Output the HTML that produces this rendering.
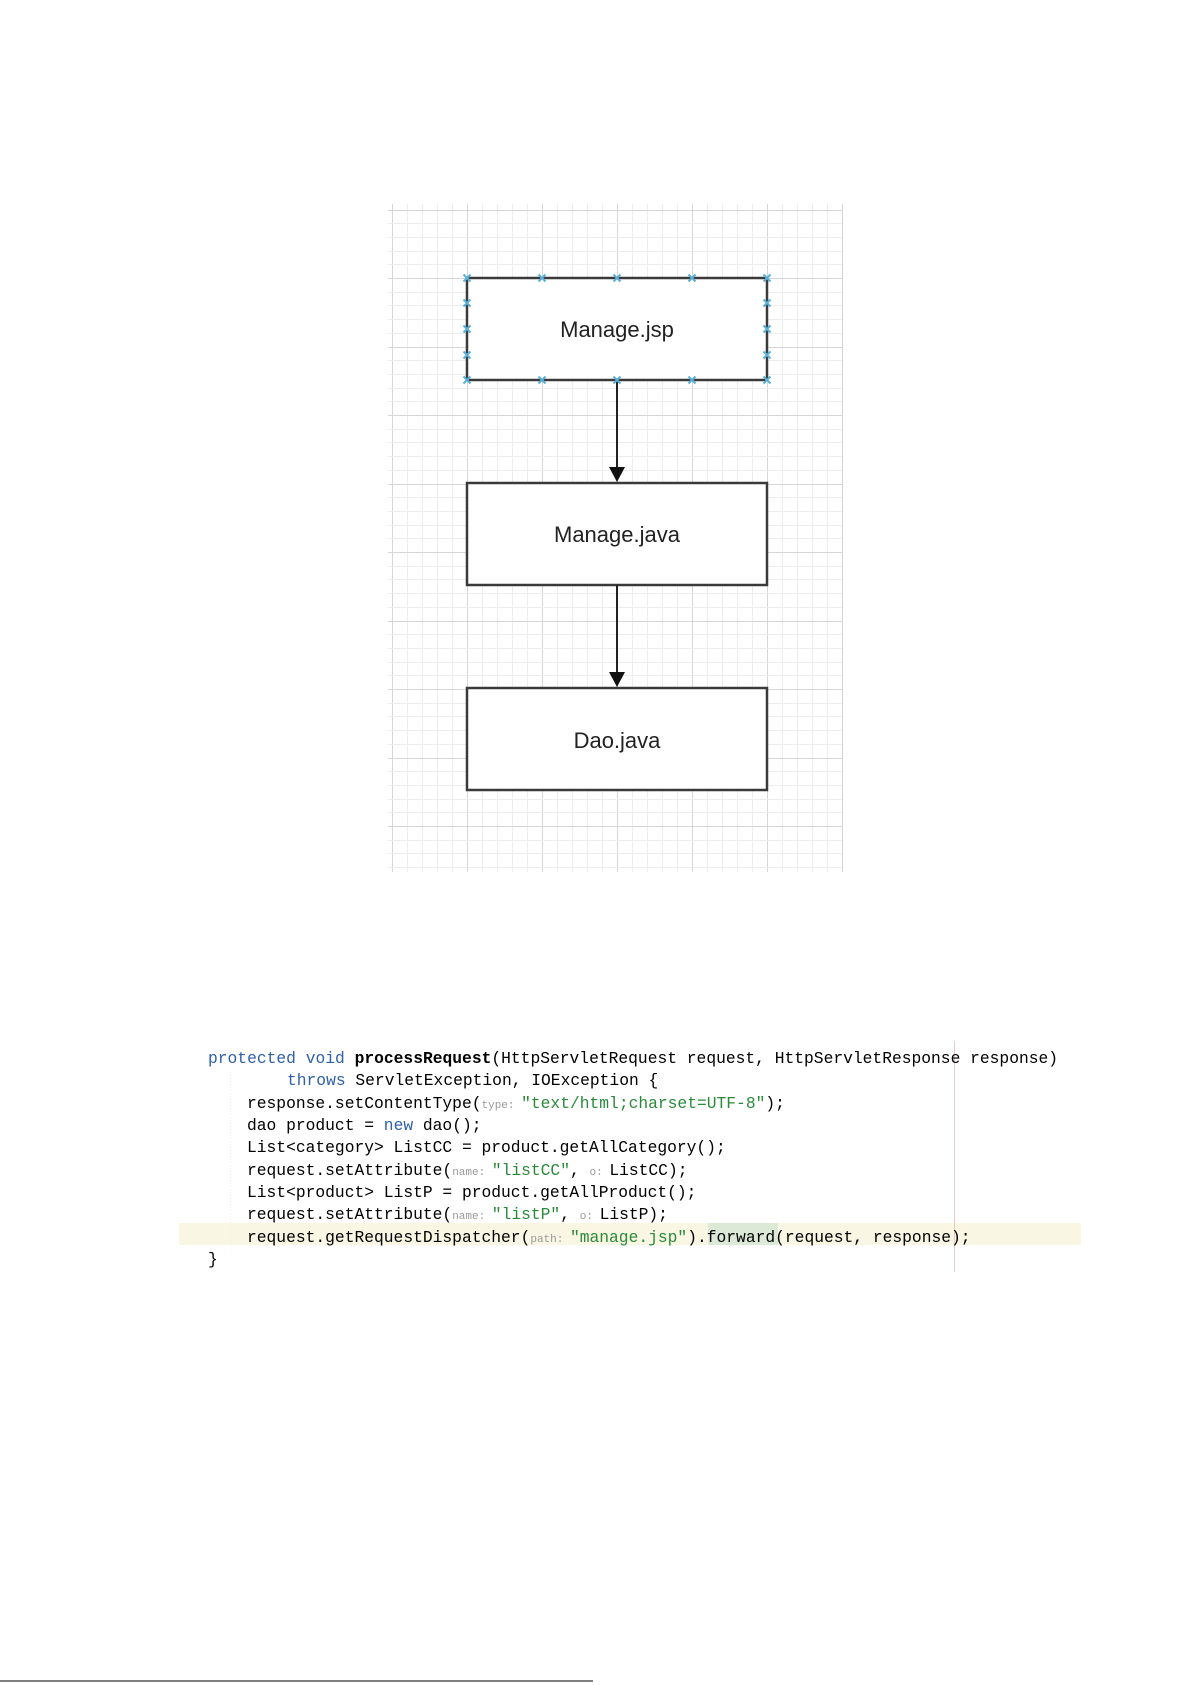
<!DOCTYPE html>
<html><head><meta charset="utf-8"><style>
html,body{margin:0;padding:0;background:#fff;width:1191px;height:1685px;overflow:hidden;position:relative}
.code{position:absolute;left:0;top:0;font-family:"Liberation Mono",monospace;font-size:16.3px;color:#000;white-space:pre}
.ln{position:absolute;height:22px;line-height:22px}
.k{color:#3060a8}.s{color:#2a8a3a}.h{color:#999;font-size:11px}
</style></head><body>
<svg id="s" width="1191" height="1685" style="position:absolute;left:0;top:0">
<defs>
<g id="x"><line x1="-3.5" y1="-3.5" x2="3.5" y2="3.5"/><line x1="-3.5" y1="3.5" x2="3.5" y2="-3.5"/></g>
</defs>
<g id="grid"></g>
<g stroke="#3a3a3a" stroke-width="2.5" fill="#fff">
<rect x="467" y="278" width="300" height="102"/>
<rect x="467" y="483" width="300" height="102"/>
<rect x="467" y="688" width="300" height="102"/>
</g>
<g stroke="#222" stroke-width="2">
<line x1="617" y1="380" x2="617" y2="470"/>
<line x1="617" y1="585" x2="617" y2="675"/>
</g>
<g fill="#111">
<polygon points="609,467 625,467 617,482"/>
<polygon points="609,672 625,672 617,687"/>
</g>
<g stroke="#5ab0d8" stroke-width="2">
<use href="#x" x="467" y="278"/><use href="#x" x="542" y="278"/><use href="#x" x="617" y="278"/><use href="#x" x="692" y="278"/><use href="#x" x="767" y="278"/>
<use href="#x" x="467" y="380"/><use href="#x" x="542" y="380"/><use href="#x" x="617" y="380"/><use href="#x" x="692" y="380"/><use href="#x" x="767" y="380"/>
<use href="#x" x="467" y="303"/><use href="#x" x="467" y="329"/><use href="#x" x="467" y="355"/>
<use href="#x" x="767" y="303"/><use href="#x" x="767" y="329"/><use href="#x" x="767" y="355"/>
</g>
<g font-family="Liberation Sans, sans-serif" font-size="22" fill="#222" text-anchor="middle">
<text x="617" y="337">Manage.jsp</text>
<text x="617" y="542">Manage.java</text>
<text x="617" y="748">Dao.java</text>
</g>
<rect x="179" y="1223" width="902" height="22" fill="#faf6e4"/>
<rect x="708" y="1223" width="70" height="22" fill="#dbe9d6"/>
<line x1="954.5" y1="1041" x2="954.5" y2="1272" stroke="#e8c8c8" stroke-width="1"/>
<line x1="230.5" y1="1072" x2="230.5" y2="1255" stroke="#eee" stroke-width="1" stroke-dasharray="1,2"/>
<line x1="0" y1="1681" x2="593" y2="1681" stroke="#000" stroke-width="1"/>
</svg>
<script>
(function(){
var g=document.getElementById('grid'),ns='http://www.w3.org/2000/svg',h='';
for(var i=-1;i<=30;i++){var x=392+i*15;if(x<388||x>842)continue;var maj=(i%5==0);
h+='<line x1="'+(x+0.5)+'" y1="204" x2="'+(x+0.5)+'" y2="872" stroke="'+(maj?'#d6d6d6':'#ededed')+'"/>';}
for(var j=-6;j<=45;j++){var y=Math.round(278+j*13.7);if(y<204||y>872)continue;var maj=(j%5==0);
h+='<line x1="388" y1="'+(y+0.5)+'" x2="842" y2="'+(y+0.5)+'" stroke="'+(maj?'#d6d6d6':'#ededed')+'"/>';}
g.innerHTML=h;
})();
</script>
<div class="code">
<div class="ln" style="left:208px;top:1048px"><span class="k">protected void</span> <b>processRequest</b>(HttpServletRequest request, HttpServletResponse response)</div>
<div class="ln" style="left:287px;top:1070px"><span class="k">throws</span> ServletException, IOException {</div>
<div class="ln" style="left:247px;top:1093px">response.setContentType(<span class="h">type: </span><span class="s">"text/html;charset=UTF-8"</span>);</div>
<div class="ln" style="left:247px;top:1115px">dao product = <span class="k">new</span> dao();</div>
<div class="ln" style="left:247px;top:1137px">List&lt;category&gt; ListCC = product.getAllCategory();</div>
<div class="ln" style="left:247px;top:1160px">request.setAttribute(<span class="h">name: </span><span class="s">"listCC"</span>, <span class="h">o: </span>ListCC);</div>
<div class="ln" style="left:247px;top:1182px">List&lt;product&gt; ListP = product.getAllProduct();</div>
<div class="ln" style="left:247px;top:1204px">request.setAttribute(<span class="h">name: </span><span class="s">"listP"</span>, <span class="h">o: </span>ListP);</div>
<div class="ln" style="left:247px;top:1227px">request.getRequestDispatcher(<span class="h">path: </span><span class="s">"manage.jsp"</span>).forward(request, response);</div>
<div class="ln" style="left:208px;top:1249px">}</div>
</div>
</body></html>
